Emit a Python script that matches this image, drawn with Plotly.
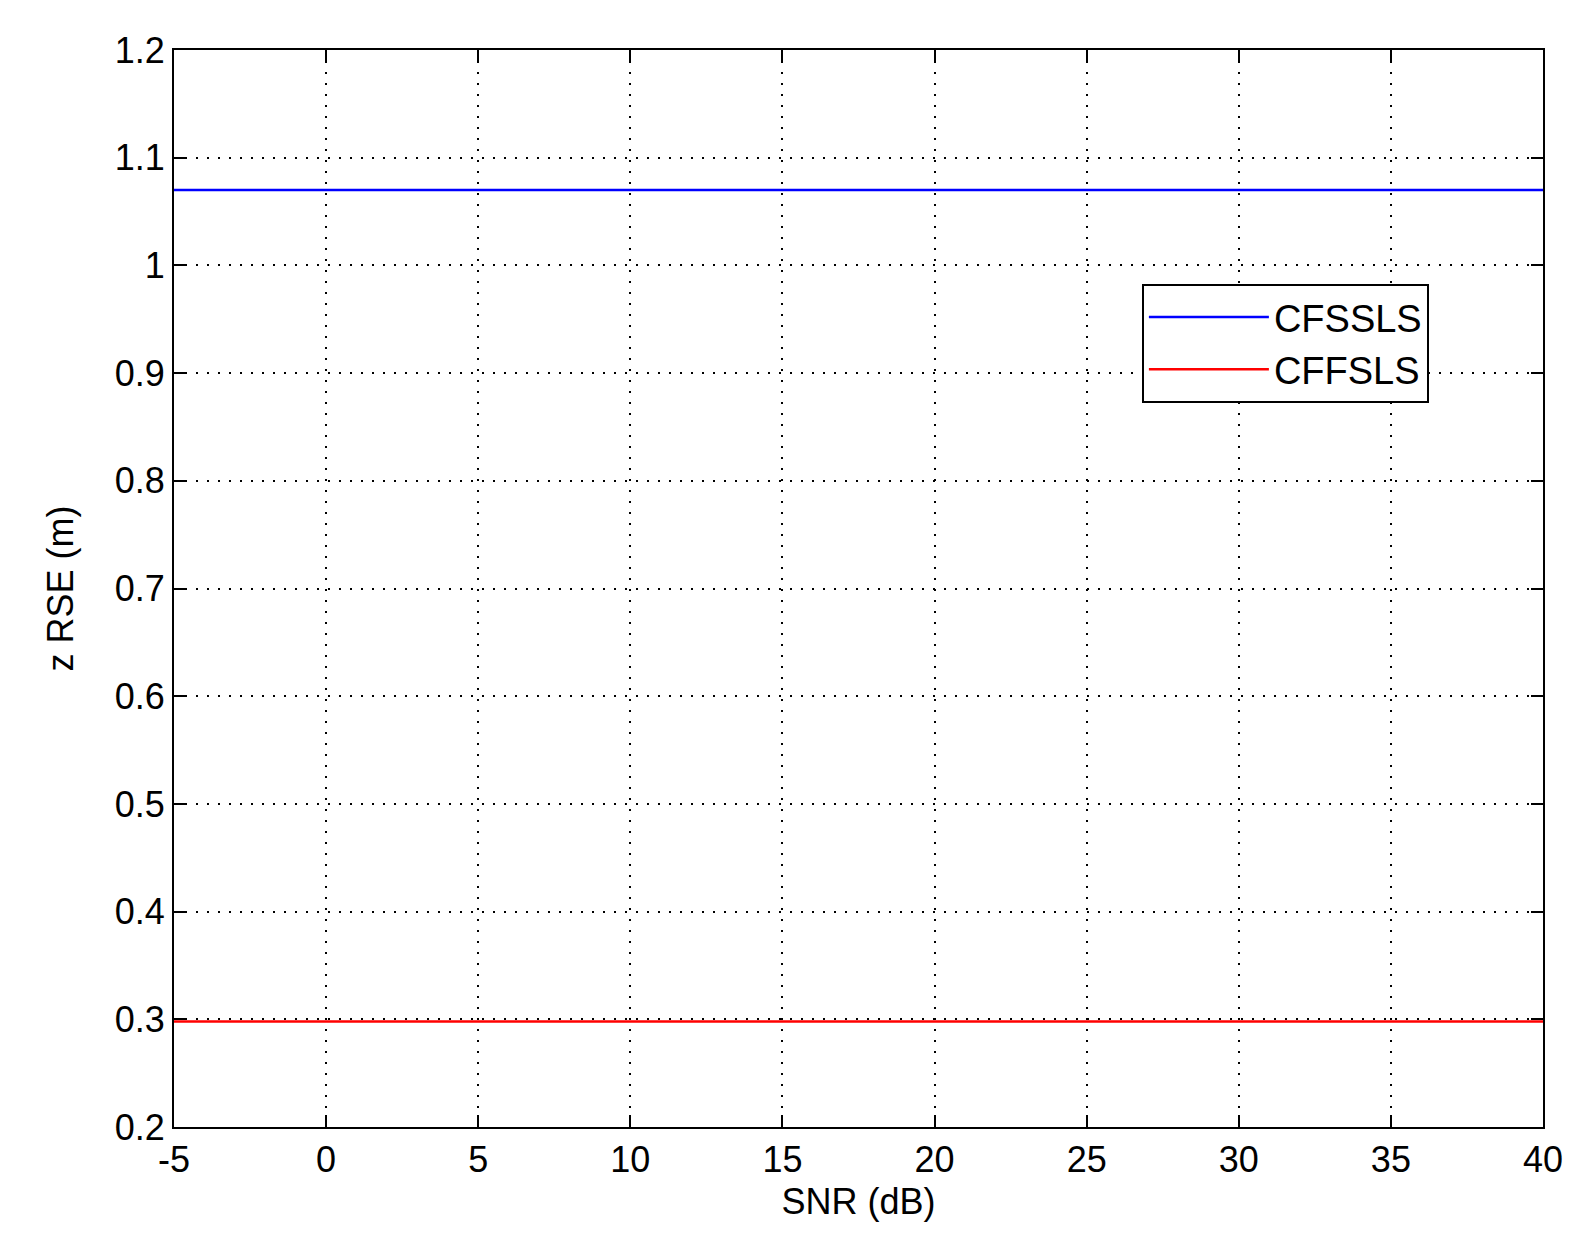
import plotly.graph_objects as go

snr = [-5, 0, 5, 10, 15, 20, 25, 30, 35, 40]
cfssls = [1.07] * 10
cffsls = [0.298] * 10
xtick_vals = [-5, 0, 5, 10, 15, 20, 25, 30, 35, 40]
xtick_text = ["-5", "0", "5", "10", "15", "20", "25", "30", "35", "40"]

fig = go.Figure()
fig.add_trace(go.Scatter(x=snr, y=cfssls, mode="lines", name="CFSSLS", line=dict(color="#0000ff", width=2.5)))
fig.add_trace(go.Scatter(x=snr, y=cffsls, mode="lines", name="CFFSLS", line=dict(color="#ff0000", width=2.5)))

ax = dict(showline=True, linecolor="black", linewidth=2, mirror="ticks", ticks="inside", ticklen=12,
          tickwidth=1.5, tickcolor="black", showgrid=True, gridcolor="black", griddash="2px,9px", gridwidth=2,
          zeroline=False, tickfont=dict(size=36, color="black"), automargin=False)
fig.update_xaxes(**ax, range=[-5, 40], tickvals=xtick_vals, ticktext=xtick_text,
                 title=dict(text="SNR (dB)", font=dict(size=36, color="black"), standoff=10))
fig.update_yaxes(**ax, range=[0.2, 1.2], dtick=0.1,
                 title=dict(text="z RSE (m)", font=dict(size=36, color="black"), standoff=30))
fig.update_layout(
    width=1574, height=1252, paper_bgcolor="white", plot_bgcolor="white",
    font=dict(family="Liberation Sans, Arial", color="black"),
    margin=dict(l=166, r=39, t=42, b=133),
    legend=dict(x=0.707, y=0.783, xanchor="left", yanchor="top", bgcolor="white", bordercolor="black",
                borderwidth=2, font=dict(size=38, color="black"), itemwidth=120, tracegroupgap=0),
    showlegend=True,
)
fig.write_html("out.html")
